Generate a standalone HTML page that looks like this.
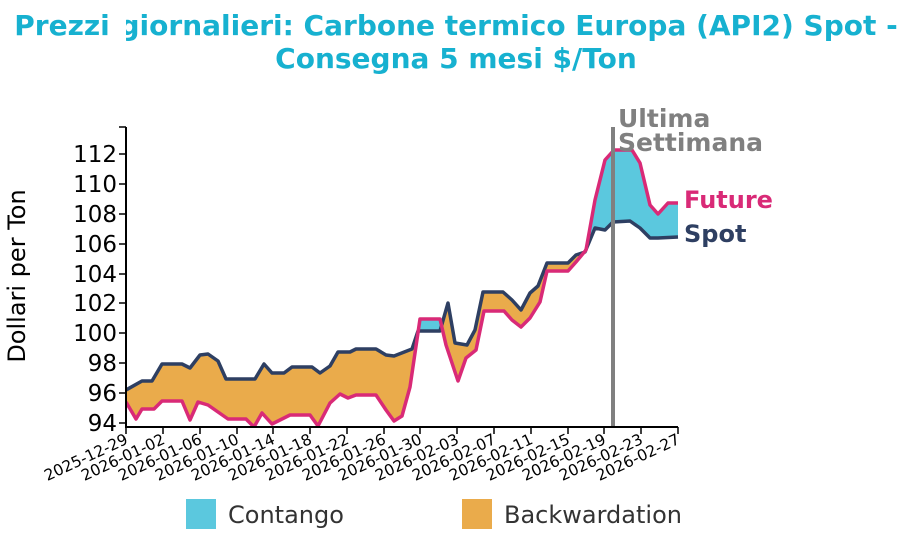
<!DOCTYPE html>
<html><head><meta charset="utf-8"><style>
html,body{margin:0;padding:0;background:#fff;}
svg{display:block;font-family:"DejaVu Sans","Liberation Sans",sans-serif;}
</style></head><body>
<svg width="911" height="534" viewBox="0 0 911 534" xmlns="http://www.w3.org/2000/svg">
<defs>
<clipPath id="above"><polygon points="126,0 678,0 678,237 658,238 650,238 640,228 630,221 613,222 605,230 595,228 585,252 576,255 568,263 547,263 538,286 530,293 521,310 512,300 503,292 483,292 475,330 467,345 455,343 448,303 440,331 418,331 412,349 394,356 386,355 376,349 356,349 350,352 338,352 330,366 320,373 312,367 292,367 284,373 272,373 264,364 255,379 226,379 218,361 208,354 200,355 190,368 182,364 162,364 152,381 142,381 126,390"/></clipPath>
</defs>
<text x="456" y="35" text-anchor="middle" font-size="28" font-weight="bold" fill="#17b1d0">Prezzi giornalieri: Carbone termico Europa (API2) Spot -</text>
<text x="456" y="68" text-anchor="middle" font-size="28" font-weight="bold" fill="#17b1d0">Consegna 5 mesi $/Ton</text>

<polygon fill="#eaab4b" points="126,390 142,381 152,381 162,364 182,364 190,368 200,355 208,354 218,361 226,379 255,379 264,364 272,373 284,373 292,367 312,367 320,373 330,366 338,352 350,352 356,349 376,349 386,355 394,356 412,349 418,331 440,331 448,303 455,343 467,345 475,330 483,292 503,292 512,300 521,310 530,293 538,286 547,263 568,263 576,255 585,252 595,228 605,230 613,222 630,221 640,228 650,238 658,238 678,237 678,203 668,203 658,214 650,205 640,163 632,150 614,150 605,160 595,200 586,250 576,262 568,271 547,271 540,302 530,318 521,327 512,320 504,311 484,311 476,350 466,358 458,381 446,345 440,319 420,319 410,387 402,416 394,421 386,410 376,395 356,395 348,398 340,394 330,403 318,426 310,415 290,415 272,424 262,413 254,427 246,419 228,419 208,405 198,402 190,420 182,401 162,401 154,409 142,409 136,419 126,402"/>
<polygon clip-path="url(#above)" fill="#5bc8de" points="126,390 142,381 152,381 162,364 182,364 190,368 200,355 208,354 218,361 226,379 255,379 264,364 272,373 284,373 292,367 312,367 320,373 330,366 338,352 350,352 356,349 376,349 386,355 394,356 412,349 418,331 440,331 448,303 455,343 467,345 475,330 483,292 503,292 512,300 521,310 530,293 538,286 547,263 568,263 576,255 585,252 595,228 605,230 613,222 630,221 640,228 650,238 658,238 678,237 678,203 668,203 658,214 650,205 640,163 632,150 614,150 605,160 595,200 586,250 576,262 568,271 547,271 540,302 530,318 521,327 512,320 504,311 484,311 476,350 466,358 458,381 446,345 440,319 420,319 410,387 402,416 394,421 386,410 376,395 356,395 348,398 340,394 330,403 318,426 310,415 290,415 272,424 262,413 254,427 246,419 228,419 208,405 198,402 190,420 182,401 162,401 154,409 142,409 136,419 126,402"/>
<polyline fill="none" stroke="#2e3f62" stroke-width="3.5" stroke-linejoin="round" points="126,390 142,381 152,381 162,364 182,364 190,368 200,355 208,354 218,361 226,379 255,379 264,364 272,373 284,373 292,367 312,367 320,373 330,366 338,352 350,352 356,349 376,349 386,355 394,356 412,349 418,331 440,331 448,303 455,343 467,345 475,330 483,292 503,292 512,300 521,310 530,293 538,286 547,263 568,263 576,255 585,252 595,228 605,230 613,222 630,221 640,228 650,238 658,238 678,237"/>
<polyline fill="none" stroke="#d92a77" stroke-width="3.5" stroke-linejoin="round" points="126,402 136,419 142,409 154,409 162,401 182,401 190,420 198,402 208,405 228,419 246,419 254,427 262,413 272,424 290,415 310,415 318,426 330,403 340,394 348,398 356,395 376,395 386,410 394,421 402,416 410,387 420,319 440,319 446,345 458,381 466,358 476,350 484,311 504,311 512,320 521,327 530,318 540,302 547,271 568,271 576,262 586,250 595,200 605,160 614,150 632,150 640,163 650,205 658,214 668,203 678,203"/>
<rect x="118" y="0" width="8" height="534" fill="#fff"/>
<rect x="118" y="427" width="570" height="10" fill="#fff"/>
<line x1="613" y1="127" x2="613" y2="427" stroke="#808080" stroke-width="4"/>
<text x="618" y="127" font-size="25" font-weight="bold" fill="#808080">Ultima</text>
<text x="618" y="151" font-size="25" font-weight="bold" fill="#808080">Settimana</text>
<text x="684" y="208" font-size="24" font-weight="bold" fill="#d92a77">Future</text>
<text x="684" y="242" font-size="24" font-weight="bold" fill="#2e3f62">Spot</text>
<g stroke="#000" stroke-width="2">
<line x1="126" y1="127" x2="126" y2="428"/>
<line x1="125" y1="427" x2="678" y2="427"/>
</g>
<g stroke="#000" stroke-width="1.5">
<line x1="119" y1="127" x2="126" y2="127"/>
<line x1="119" y1="154" x2="126" y2="154"/><line x1="119" y1="184" x2="126" y2="184"/><line x1="119" y1="214" x2="126" y2="214"/><line x1="119" y1="244" x2="126" y2="244"/><line x1="119" y1="274" x2="126" y2="274"/><line x1="119" y1="303" x2="126" y2="303"/><line x1="119" y1="333" x2="126" y2="333"/><line x1="119" y1="363" x2="126" y2="363"/><line x1="119" y1="393" x2="126" y2="393"/><line x1="119" y1="423" x2="126" y2="423"/>
</g>
<g font-size="23" text-anchor="end" fill="#000">
<text x="117" y="162">112</text><text x="117" y="192">110</text><text x="117" y="222">108</text><text x="117" y="252">106</text><text x="117" y="282">104</text><text x="117" y="311">102</text><text x="117" y="341">100</text><text x="117" y="371">98</text><text x="117" y="401">96</text><text x="117" y="431">94</text>
</g>
<text transform="translate(25,276) rotate(-90)" font-size="24" text-anchor="middle">Dollari per Ton</text>
<g stroke="#000" stroke-width="1.5">
<line x1="126" y1="427" x2="126" y2="434"/><line x1="163" y1="427" x2="163" y2="434"/><line x1="200" y1="427" x2="200" y2="434"/><line x1="237" y1="427" x2="237" y2="434"/><line x1="273" y1="427" x2="273" y2="434"/><line x1="310" y1="427" x2="310" y2="434"/><line x1="347" y1="427" x2="347" y2="434"/><line x1="384" y1="427" x2="384" y2="434"/><line x1="420" y1="427" x2="420" y2="434"/><line x1="457" y1="427" x2="457" y2="434"/><line x1="494" y1="427" x2="494" y2="434"/><line x1="531" y1="427" x2="531" y2="434"/><line x1="568" y1="427" x2="568" y2="434"/><line x1="604" y1="427" x2="604" y2="434"/><line x1="641" y1="427" x2="641" y2="434"/><line x1="678" y1="427" x2="678" y2="434"/>
</g>
<g font-size="15.5" text-anchor="end" fill="#000">
<text transform="translate(129,443) rotate(-25)">2025-12-29</text>
<text transform="translate(166,443) rotate(-25)">2026-01-02</text>
<text transform="translate(203,443) rotate(-25)">2026-01-06</text>
<text transform="translate(240,443) rotate(-25)">2026-01-10</text>
<text transform="translate(276,443) rotate(-25)">2026-01-14</text>
<text transform="translate(313,443) rotate(-25)">2026-01-18</text>
<text transform="translate(350,443) rotate(-25)">2026-01-22</text>
<text transform="translate(387,443) rotate(-25)">2026-01-26</text>
<text transform="translate(423,443) rotate(-25)">2026-01-30</text>
<text transform="translate(460,443) rotate(-25)">2026-02-03</text>
<text transform="translate(497,443) rotate(-25)">2026-02-07</text>
<text transform="translate(534,443) rotate(-25)">2026-02-11</text>
<text transform="translate(571,443) rotate(-25)">2026-02-15</text>
<text transform="translate(607,443) rotate(-25)">2026-02-19</text>
<text transform="translate(644,443) rotate(-25)">2026-02-23</text>
<text transform="translate(681,443) rotate(-25)">2026-02-27</text>
</g>
<rect x="186" y="499" width="30" height="30" fill="#5bc8de"/>
<text x="228" y="523" font-size="24" fill="#333">Contango</text>
<rect x="462" y="499" width="30" height="30" fill="#eaab4b"/>
<text x="504" y="523" font-size="24" fill="#333">Backwardation</text>
</svg>
</body></html>
